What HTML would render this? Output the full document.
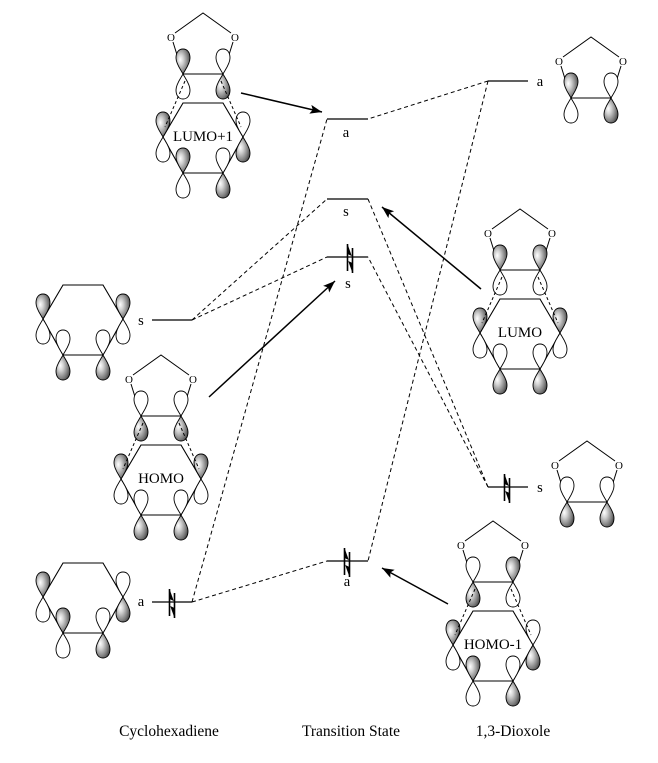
<!DOCTYPE html>
<html><head><meta charset="utf-8"><style>html,body{margin:0;padding:0;background:#fff}svg{display:block}</style></head>
<body>
<svg width="658" height="763" viewBox="0 0 658 763" xmlns="http://www.w3.org/2000/svg" font-family="'Liberation Serif', serif">
<defs>
<radialGradient id="g" cx="0.38" cy="0.45" r="0.68" fx="0.3" fy="0.42">
<stop offset="0" stop-color="#ffffff"/><stop offset="0.3" stop-color="#d2d2d2"/><stop offset="0.75" stop-color="#7a7a7a"/><stop offset="1" stop-color="#404040"/>
</radialGradient>
<path id="su" d="M0,0 C-2,-4 -7,-10 -7,-16 C-7,-22 -4,-25 0,-25 C4,-25 7,-22 7,-16 C7,-10 2,-4 0,0 Z" fill="url(#g)" stroke="#000" stroke-width="0.9"/>
<path id="wu" d="M0,0 C-2,-4 -7,-10 -7,-16 C-7,-22 -4,-25 0,-25 C4,-25 7,-22 7,-16 C7,-10 2,-4 0,0 Z" fill="#fff" stroke="#000" stroke-width="0.9"/>
<path id="sd" d="M0,0 C-2,4 -7,10 -7,16 C-7,22 -4,25 0,25 C4,25 7,22 7,16 C7,10 2,4 0,0 Z" fill="url(#g)" stroke="#000" stroke-width="0.9"/>
<path id="wd" d="M0,0 C-2,4 -7,10 -7,16 C-7,22 -4,25 0,25 C4,25 7,22 7,16 C7,10 2,4 0,0 Z" fill="#fff" stroke="#000" stroke-width="0.9"/>
<g id="diox">
<path d="M-28,20 L0,0 L28,20 M-30,29 L-20,61 M30,29 L20,61 M-20,61 H20" fill="none" stroke="#000" stroke-width="1"/>
<text x="-32" y="28" font-size="11" text-anchor="middle">O</text>
<text x="32" y="28" font-size="11" text-anchor="middle">O</text>
</g>
<path id="hex" d="M-20,90 H20 L40,124 L20,160 H-20 L-40,124 Z" fill="none" stroke="#000" stroke-width="1.1"/>
<path id="bd" d="M-18,68 L-38,114 M18,68 L38,114" fill="none" stroke="#000" stroke-width="1" stroke-dasharray="3,2.5"/>
<marker id="ah" markerWidth="14" markerHeight="10" refX="12" refY="5" orient="auto" markerUnits="userSpaceOnUse"><path d="M0,0.5 L12,5 L0,9.5 L2.5,5 Z" fill="#000"/></marker>
<g id="el">
<path d="M-2.5,14 V-13 M2.5,-9 V16" stroke="#000" stroke-width="1.6" fill="none"/>
<polygon points="-2.5,-13 1.8,-1 -2.5,-3" fill="#000"/>
<polygon points="2.5,16 -1.8,4 2.5,6" fill="#000"/>
</g>
</defs>

<!-- correlation dashed lines -->
<g stroke="#000" stroke-width="1" stroke-dasharray="4,3" fill="none">
<path d="M192,320 L327,199"/>
<path d="M192,320 L327,257"/>
<path d="M192,602 L327,119"/>
<path d="M192,602 L327,561"/>
<path d="M488,81 L368,119"/>
<path d="M488,81 L368,561"/>
<path d="M488,487 L368,199"/>
<path d="M488,487 L368,257"/>
</g>

<!-- energy levels -->
<g stroke="#000" stroke-width="1.3" fill="none">
<path d="M152,320 H192"/>
<path d="M152,602 H192"/>
<path d="M327,119 H368"/>
<path d="M327,199 H368"/>
<path d="M327,257 H368"/>
<path d="M327,561 H368"/>
<path d="M488,81 H528"/>
<path d="M488,487 H528"/>
</g>
<use href="#el" x="172" y="602"/>
<use href="#el" x="350" y="257"/>
<use href="#el" x="347" y="561"/>
<use href="#el" x="507" y="487"/>

<g font-size="14.5" text-anchor="middle">
<text x="141" y="325">s</text>
<text x="141" y="606">a</text>
<text x="346" y="137">a</text>
<text x="346" y="216">s</text>
<text x="348" y="288">s</text>
<text x="347" y="586">a</text>
<text x="540" y="86">a</text>
<text x="540" y="492">s</text>
</g>

<!-- solid arrows -->
<g stroke="#000" stroke-width="1.5" fill="none" marker-end="url(#ah)">
<path d="M241,93 L322,112"/>
<path d="M481,289 L382,207"/>
<path d="M209,397 L335,281"/>
<path d="M448,604 L382,568"/>
</g>

<!-- LUMO+1 -->
<g transform="translate(203,13)">
<use href="#diox"/><use href="#hex"/>
<use href="#su" x="-20" y="61"/><use href="#wd" x="-20" y="61"/>
<use href="#wu" x="20" y="61"/><use href="#sd" x="20" y="61"/>
<use href="#su" x="-40" y="124"/><use href="#wd" x="-40" y="124"/>
<use href="#wu" x="40" y="124"/><use href="#sd" x="40" y="124"/>
<use href="#su" x="-20" y="160"/><use href="#wd" x="-20" y="160"/>
<use href="#wu" x="20" y="160"/><use href="#sd" x="20" y="160"/>
<use href="#bd"/>
<text x="0" y="128" font-size="15" text-anchor="middle">LUMO+1</text>
</g>

<!-- HOMO -->
<g transform="translate(161,355)">
<use href="#diox"/><use href="#hex"/>
<use href="#wu" x="-20" y="61"/><use href="#sd" x="-20" y="61"/>
<use href="#wu" x="20" y="61"/><use href="#sd" x="20" y="61"/>
<use href="#su" x="-40" y="124"/><use href="#wd" x="-40" y="124"/>
<use href="#su" x="40" y="124"/><use href="#wd" x="40" y="124"/>
<use href="#wu" x="-20" y="160"/><use href="#sd" x="-20" y="160"/>
<use href="#wu" x="20" y="160"/><use href="#sd" x="20" y="160"/>
<use href="#bd"/>
<text x="0" y="128" font-size="15" text-anchor="middle">HOMO</text>
</g>

<!-- LUMO -->
<g transform="translate(520,209)">
<use href="#diox"/><use href="#hex"/>
<use href="#su" x="-20" y="61"/><use href="#wd" x="-20" y="61"/>
<use href="#su" x="20" y="61"/><use href="#wd" x="20" y="61"/>
<use href="#su" x="-40" y="124"/><use href="#wd" x="-40" y="124"/>
<use href="#su" x="40" y="124"/><use href="#wd" x="40" y="124"/>
<use href="#wu" x="-20" y="160"/><use href="#sd" x="-20" y="160"/>
<use href="#wu" x="20" y="160"/><use href="#sd" x="20" y="160"/>
<use href="#bd"/>
<text x="0" y="128" font-size="15" text-anchor="middle">LUMO</text>
</g>

<!-- HOMO-1 -->
<g transform="translate(493,521)">
<use href="#diox"/><use href="#hex"/>
<use href="#wu" x="-20" y="61"/><use href="#sd" x="-20" y="61"/>
<use href="#su" x="20" y="61"/><use href="#wd" x="20" y="61"/>
<use href="#su" x="-40" y="124"/><use href="#wd" x="-40" y="124"/>
<use href="#wu" x="40" y="124"/><use href="#sd" x="40" y="124"/>
<use href="#su" x="-20" y="160"/><use href="#wd" x="-20" y="160"/>
<use href="#wu" x="20" y="160"/><use href="#sd" x="20" y="160"/>
<use href="#bd"/>
<text x="0" y="128" font-size="15" text-anchor="middle">HOMO-1</text>
</g>

<!-- Cyclohexadiene s -->
<g transform="translate(83,195)">
<use href="#hex"/>
<use href="#su" x="-40" y="124"/><use href="#wd" x="-40" y="124"/>
<use href="#su" x="40" y="124"/><use href="#wd" x="40" y="124"/>
<use href="#wu" x="-20" y="160"/><use href="#sd" x="-20" y="160"/>
<use href="#wu" x="20" y="160"/><use href="#sd" x="20" y="160"/>
</g>

<!-- Cyclohexadiene a -->
<g transform="translate(83,473)">
<use href="#hex"/>
<use href="#su" x="-40" y="124"/><use href="#wd" x="-40" y="124"/>
<use href="#wu" x="40" y="124"/><use href="#sd" x="40" y="124"/>
<use href="#su" x="-20" y="160"/><use href="#wd" x="-20" y="160"/>
<use href="#wu" x="20" y="160"/><use href="#sd" x="20" y="160"/>
</g>

<!-- Dioxole a -->
<g transform="translate(591,37)">
<use href="#diox"/>
<use href="#su" x="-20" y="61"/><use href="#wd" x="-20" y="61"/>
<use href="#wu" x="20" y="61"/><use href="#sd" x="20" y="61"/>
</g>

<!-- Dioxole s -->
<g transform="translate(587,441)">
<use href="#diox"/>
<use href="#wu" x="-20" y="61"/><use href="#sd" x="-20" y="61"/>
<use href="#wu" x="20" y="61"/><use href="#sd" x="20" y="61"/>
</g>

<!-- bottom labels -->
<g font-size="15.5" text-anchor="middle">
<text x="169" y="736">Cyclohexadiene</text>
<text x="351" y="736">Transition State</text>
<text x="513" y="736">1,3-Dioxole</text>
</g>
</svg>
</body></html>
